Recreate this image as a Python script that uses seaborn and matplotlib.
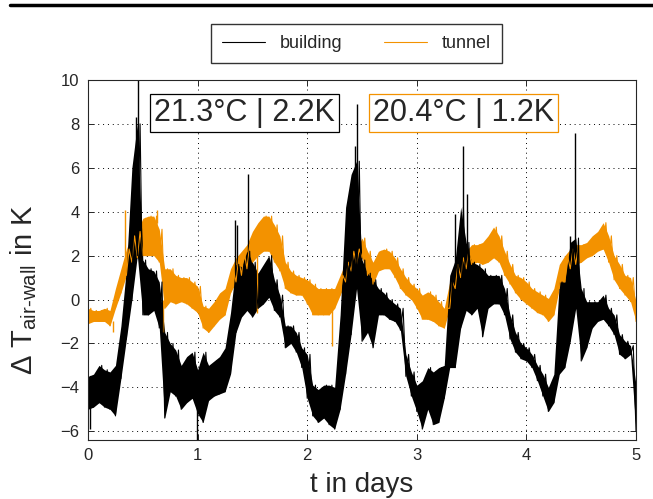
import numpy as np
import pandas as pd
import matplotlib
matplotlib.use("Agg")
import matplotlib.pyplot as plt
from matplotlib.lines import Line2D
import seaborn as sns

# sampling grid in days (0.05 d steps), values
t_days = np.round(np.arange(101) * 0.05, 2)

building_hi = [-3.5, -3.4, -3.0, -3.2, -3.3, -3.0, -1.2, 1.4, 6.0, 8.0,
               1.8, 1.4, 1.3, 0.8, -1.5, -2.0, -2.3, -3.0, -2.6, -2.4,
               -3.2, -2.4, -3.0, -2.8, -2.6, -2.2, -0.6, 1.6, 1.5, 2.2,
               1.7, 1.2, 1.6, 2.0, 0.9, 0.2, -1.2, -1.2, -1.5, -2.2,
               -2.5, -3.9, -4.1, -3.9, -3.9, -4.0, -0.7, 4.2, 5.7, 6.3,
               1.8, 1.2, 0.9, 0.5, 0.3, 0.0, -0.2, -0.4, -2.5, -3.3,
               -3.9, -3.7, -3.1, -3.3, -3.1, -3.0, 1.1, 1.8, 4.2, 2.6,
               1.7, 1.6, 1.4, 1.1, 1.1, 1.1, 0.5, -0.7, -1.5, -2.0,
               -2.2, -2.5, -3.0, -3.4, -4.0, -3.4, 0.8, 0.8, 2.6, 2.8,
               0.5, -0.1, -0.1, -0.1, 0.2, -0.4, -0.7, -1.6, -1.9, -2.1,
               -3.9]
building_lo = [-5.0, -4.9, -4.7, -4.9, -5.0, -5.3, -3.6, -1.8, 0.0, 2.0,
               -0.7, -0.7, -0.5, -1.3, -5.4, -4.2, -4.4, -5.0, -4.7, -4.5,
               -5.2, -5.6, -4.6, -4.4, -4.3, -4.2, -3.4, -1.5, -0.8, -0.5,
               -0.8, -0.4, -0.2, 0.1, -0.5, -0.8, -2.2, -2.0, -2.4, -3.1,
               -4.5, -5.3, -5.6, -5.4, -5.7, -5.9, -5.0, -3.4, -1.6, 0.5,
               -1.9, -1.5, -2.2, -0.7, -0.7, -0.9, -1.0, -1.4, -3.5, -4.4,
               -5.1, -5.9, -5.0, -5.7, -5.6, -4.5, -3.1, -3.1, -1.3, -0.5,
               -0.7, -0.4, -1.7, -0.4, -0.2, -0.2, -0.7, -1.8, -2.4, -2.7,
               -2.8, -3.1, -3.7, -4.4, -5.1, -4.7, -3.4, -3.1, -1.9, -0.4,
               -2.8, -2.2, -1.3, -1.0, -0.9, -1.2, -1.6, -2.5, -2.7, -2.5,
               -6.0]

tunnel_hi = [-0.4, -0.5, -0.5, -0.4, -0.5, 0.5, 1.4, 2.3, 2.9, 3.1,
             3.7, 3.8, 3.8, 3.2, 1.4, 1.4, 1.1, 1.0, 1.0, 0.8,
             0.6, -0.3, -0.4, -0.1, 0.3, 0.5, 1.4, 1.9, 2.2, 2.5,
             3.1, 3.5, 3.8, 3.8, 3.4, 2.9, 1.7, 1.3, 1.1, 1.0,
             0.9, 0.7, 0.5, 0.5, 0.5, 0.5, 1.1, 1.7, 2.2, 2.3,
             2.8, 2.2, 1.7, 2.2, 2.3, 2.2, 1.9, 1.4, 1.0, 0.7,
             0.5, 0.2, 0.35, 0.2, -0.1, -0.4, 0.8, 1.6, 1.9, 2.2,
             2.5, 2.5, 2.6, 2.9, 3.3, 2.9, 2.2, 1.6, 1.1, 1.0,
             0.8, 0.5, 0.35, 0.2, 0.05, 0.5, 1.6, 2.0, 2.3, 2.5,
             2.5, 2.6, 2.9, 3.1, 3.5, 2.9, 2.0, 1.6, 1.1, 1.0,
             -0.1]
tunnel_lo = [-1.1, -1.0, -1.0, -1.0, -1.2, -0.4, 0.3, 1.1, 1.7, 1.9,
             2.0, 2.0, 2.0, 1.7, -0.4, -0.1, -0.2, -0.1, -0.2, -0.4,
             -0.6, -1.3, -1.5, -1.2, -0.9, -0.7, 0.3, 0.8, 1.1, 1.4,
             1.7, 2.0, 2.2, 2.2, 1.7, 1.3, 0.5, 0.3, 0.2, 0.2,
             -0.2, -0.7, -0.7, -0.7, -0.7, -0.4, 0.2, 0.8, 1.3, 1.6,
             1.9, 1.1, 0.7, 1.3, 1.4, 1.4, 1.0, 0.5, 0.2, 0.0,
             -0.4, -0.9, -0.9, -1.0, -1.2, -1.3, -0.4, 0.5, 1.0, 1.4,
             1.6, 1.7, 1.6, 1.7, 1.9, 1.7, 1.1, 0.7, 0.3, 0.0,
             -0.2, -0.4, -0.6, -0.7, -1.0, -0.7, 0.5, 0.8, 1.4, 1.6,
             1.7, 1.9, 2.0, 2.2, 2.3, 1.7, 0.9, 0.5, 0.2, -0.1,
             -1.0]

# narrow single spikes sticking out of the bands: time, start, end
building_spike_t = [0.02, 0.44, 0.455, 0.99, 1.345, 1.36, 1.457, 2.44, 2.457,
                    3.345, 3.419, 3.455, 4.40, 4.443]
building_spike_from = [-4.5, 4.0, 4.0, -4.5, 0.5, 0.5, 1.0, 4.0, 4.0,
                       0.5, 2.5, 1.5, 1.0, 1.5]
building_spike_to = [-5.9, 8.3, 10.5, -6.4, 3.6, 3.4, 5.7, 7.0, 8.9,
                     3.9, 7.0, 4.8, 2.9, 7.6]
tunnel_spike_t = [0.232, 0.338, 0.627, 0.688, 1.539, 2.229]
tunnel_spike_from = [-1.0, 2.0, 3.5, 0.0, 2.0, -0.5]
tunnel_spike_to = [-1.5, 4.1, 4.1, -1.5, -0.6, -2.1]

box_texts = ["21.3°C | 2.2K", "20.4°C | 1.2K"]
orange = "#f39200"
colors = {"building": "black", "tunnel": orange}

# long table: low/high points interleaved so the line zigzags through the noise band
rows = []
for name, lo, hi in [("tunnel", tunnel_lo, tunnel_hi), ("building", building_lo, building_hi)]:
    for i, t in enumerate(t_days):
        rows.append((name, t, lo[i]))
        if i < len(t_days) - 1:
            rows.append((name, t + 0.025, hi[i]))
        else:
            rows.append((name, t, hi[i]))
df = pd.DataFrame(rows, columns=["series", "t", "dT"])

sns.set_style("ticks")
plt.rcParams["font.family"] = ["Liberation Sans", "DejaVu Sans"]
plt.rcParams["mathtext.fontset"] = "custom"
plt.rcParams["mathtext.rm"] = "Liberation Sans"
plt.rcParams["mathtext.it"] = "Liberation Sans"

fig = plt.figure(figsize=(6.53, 4.99), dpi=100)
ax = fig.add_axes([0.1348, 0.1182, 0.8392, 0.7215])

ax.fill_between(t_days, tunnel_lo, tunnel_hi, color=orange, lw=0)
ax.vlines(tunnel_spike_t, tunnel_spike_from, tunnel_spike_to, color=orange, lw=1.0)
ax.fill_between(t_days, building_lo, building_hi, color="black", lw=0)
ax.vlines(building_spike_t, building_spike_from, building_spike_to, color="black", lw=1.0)
sns.lineplot(data=df, x="t", y="dT", hue="series", hue_order=["tunnel", "building"],
             palette=colors, estimator=None, sort=False, lw=0.8, legend=False, ax=ax)

ax.set_xlim(0, 5)
ax.set_ylim(-6.4, 10)
ax.set_xticks(range(0, 6))
ax.set_yticks(range(-6, 11, 2))
ax.grid(True, linestyle=(0, (1, 4)), color="black", lw=0.7)
ax.tick_params(direction="in", top=True, right=True, length=4, labelsize=12, width=0.7, pad=6)
for s in ax.spines.values():
    s.set_linewidth(0.8)
ax.set_xlabel("t in days", fontsize=20, labelpad=6)
ax.set_ylabel(r"Δ T$_{\rm air\text{-}wall}$ in K", fontsize=21)
ax.yaxis.set_label_coords(-0.09, 0.417)

ax.text(0.2856, 0.908, box_texts[0], transform=ax.transAxes, fontsize=22,
        ha="center", va="center",
        bbox=dict(boxstyle="square,pad=0.12", fc="white", ec="black", lw=0.9))
ax.text(0.685, 0.908, box_texts[1], transform=ax.transAxes, fontsize=22,
        ha="center", va="center",
        bbox=dict(boxstyle="square,pad=0.12", fc="white", ec=orange, lw=0.9))

handles = [Line2D([], [], color="black", lw=0.8), Line2D([], [], color=orange, lw=0.8)]
fig.legend(handles, ["building", "tunnel"], loc="center", bbox_to_anchor=(0.546, 0.913),
           ncol=2, fontsize=13, frameon=True, fancybox=False, edgecolor="black",
           handlelength=2.4, columnspacing=2.3, borderpad=0.6)

fig.add_artist(Line2D([0.015, 1.0], [0.99, 0.99], lw=2.5, color="black",
                      transform=fig.transFigure))

fig.savefig("out.png", dpi=100)
